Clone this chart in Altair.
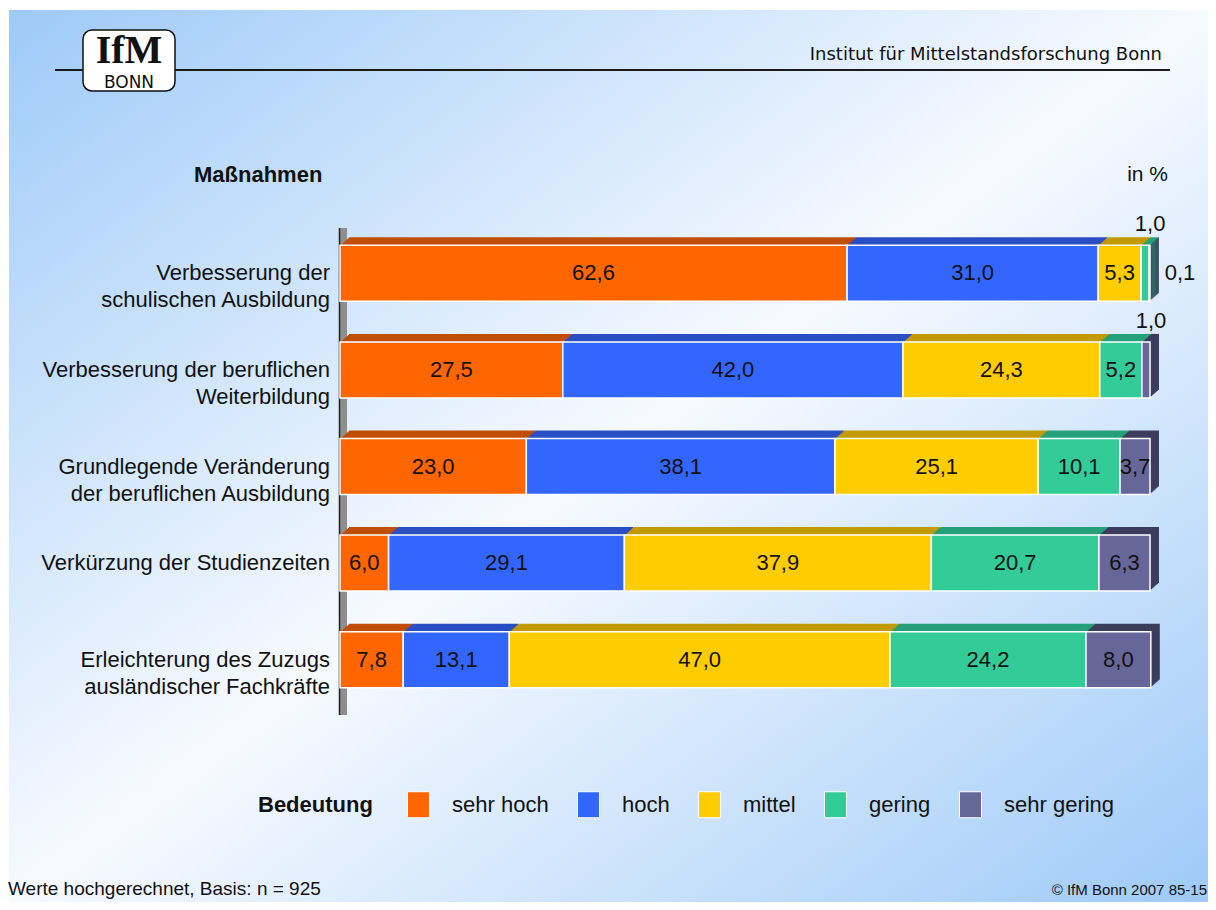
import altair as alt
import pandas as pd

# ---------------- data ----------------
categories = [
    "Verbesserung der\nschulischen Ausbildung",
    "Verbesserung der beruflichen\nWeiterbildung",
    "Grundlegende Veränderung\nder beruflichen Ausbildung",
    "Verkürzung der Studienzeiten",
    "Erleichterung des Zuzugs\nausländischer Fachkräfte",
]
levels = ["sehr hoch", "hoch", "mittel", "gering", "sehr gering"]
sehr_hoch = [62.6, 27.5, 23.0, 6.0, 7.8]
hoch = [31.0, 42.0, 38.1, 29.1, 13.1]
mittel = [5.3, 24.3, 25.1, 37.9, 47.0]
gering = [1.0, 5.2, 10.1, 20.7, 24.2]
sehr_gering = [0.1, 1.0, 3.7, 6.3, 8.0]
series = [sehr_hoch, hoch, mittel, gering, sehr_gering]

colors = ["#FF6600", "#3366FF", "#FFCC00", "#33CC99", "#666699"]
dark_colors = ["#C04E00", "#2A4EC4", "#C09A00", "#26A078", "#3C3C5E"]

rows = []
for i, cat in enumerate(categories):
    start = 0.0
    for j, lev in enumerate(levels):
        v = series[j][i]
        if v < 0.5:
            place = "right"
        elif v < 2:
            place = "above"
        else:
            place = "inside"
        rows.append(dict(cat=cat, level=lev, value=v, start=start, end=start + v,
                         mid=start + v / 2, dark=dark_colors[j],
                         label=f"{v:.1f}".replace(".", ","), place=place))
        start += v
df = pd.DataFrame(rows)
one = pd.DataFrame({"a": [0]})
cat_df = pd.DataFrame({"cat": categories})

W, H = 1200, 894
FONT = "Liberation Sans"

xscale = alt.Scale(domain=[0, 100], range=[332, 1142], nice=False, zero=False)
yscale = alt.Scale(domain=categories, range=[217, 700], paddingInner=0.42, paddingOuter=0.21)
X = lambda f: alt.X(f, type="quantitative", scale=xscale, axis=None)
Y = alt.Y("cat:N", scale=yscale, axis=None)

# ---------------- background ----------------
bg = alt.Chart(one).mark_rect(
    fill=alt.Gradient(
        gradient="linear",
        stops=[alt.GradientStop(color="#9ECAF8", offset=0),
               alt.GradientStop(color="#F7FAFF", offset=0.5),
               alt.GradientStop(color="#9ECAF8", offset=1)],
        x1=0, y1=0, x2=1, y2=1)
).encode(x=alt.value(1), x2=alt.value(W), y=alt.value(2), y2=alt.value(H))

# header
header_line = alt.Chart(one).mark_rule(stroke="#1a1a1a", strokeWidth=2).encode(
    x=alt.value(47), x2=alt.value(1162), y=alt.value(62))
logo_box = alt.Chart(one).mark_rect(fill="white", stroke="#111", strokeWidth=1.5, cornerRadius=9).encode(
    x=alt.value(75), x2=alt.value(167), y=alt.value(22), y2=alt.value(83))
logo_ifm = alt.Chart(one).mark_text(font="Liberation Serif", fontWeight="bold", fontSize=40,
                                    align="center", baseline="alphabetic", color="#111").encode(
    x=alt.value(121), y=alt.value(55), text=alt.value("IfM"))
logo_bonn = alt.Chart(one).mark_text(font="DejaVu Sans", fontSize=17, align="center",
                                     baseline="alphabetic", color="#111").encode(
    x=alt.value(121), y=alt.value(80), text=alt.value("BONN"))
inst = alt.Chart(one).mark_text(font="DejaVu Sans", fontSize=18, align="right",
                                baseline="alphabetic", color="#111").encode(
    x=alt.value(1154), y=alt.value(52), text=alt.value("Institut für Mittelstandsforschung Bonn"))
massn = alt.Chart(one).mark_text(font=FONT, fontSize=22, fontWeight="bold", align="left",
                                 baseline="middle", color="#111").encode(
    x=alt.value(186), y=alt.value(167), text=alt.value("Maßnahmen"))
inpct = alt.Chart(one).mark_text(font=FONT, fontSize=21, align="right",
                                 baseline="middle", color="#111").encode(
    x=alt.value(1160), y=alt.value(167), text=alt.value("in %"))

# axis wall
wall = alt.Chart(one).mark_rect(fill="#8E8E8E").encode(
    x=alt.value(332), x2=alt.value(339), y=alt.value(220), y2=alt.value(707))
wall_line = alt.Chart(one).mark_rule(stroke="#222", strokeWidth=1.5).encode(
    x=alt.value(331.5), y=alt.value(220), y2=alt.value(707))

# 3D extrusion (drawn back to front)
extr = []
for k in range(8, 0, -1):
    dx = k * 9 / 8
    extr.append(
        alt.Chart(df).mark_bar(xOffset=dx, x2Offset=dx, yOffset=-k, y2Offset=-k, strokeWidth=0).encode(
            x=X("start"), x2="end", y=Y, fill=alt.Fill("dark:N", scale=None))
    )

front = alt.Chart(df).mark_bar(stroke="white", strokeWidth=1.5).encode(
    x=X("start"), x2="end", y=Y,
    color=alt.Color("level:N", scale=alt.Scale(domain=levels, range=colors),
                    legend=alt.Legend(
                        orient="none", legendX=250, legendY=783, direction="horizontal",
                        title="Bedeutung", titleOrient="left", titleFontSize=22,
                        titleFontWeight="bold", titleFont=FONT, titleColor="#111",
                        titlePadding=32, titleBaseline="middle",
                        labelFontSize=22, labelFont=FONT, labelColor="#111", labelOffset=20,
                        symbolType="M-0.846,-1L0.846,-1L0.846,1L-0.846,1Z", symbolSize=676,
                        symbolStrokeColor="white", symbolStrokeWidth=1, symbolOpacity=1,
                        columnPadding=26)),
)

lab_inside = alt.Chart(df).transform_filter("datum.place == 'inside'").mark_text(
    font=FONT, fontSize=22, color="#111", baseline="middle", align="center").encode(
    x=X("mid"), y=Y, text="label:N")
lab_above = alt.Chart(df).transform_filter("datum.place == 'above'").mark_text(
    font=FONT, fontSize=22, color="#111", baseline="middle", align="center", dx=5, dy=-49).encode(
    x=X("mid"), y=Y, text="label:N")
lab_right = alt.Chart(df).transform_filter("datum.place == 'right'").mark_text(
    font=FONT, fontSize=22, color="#111", baseline="middle", align="center", dx=30).encode(
    x=X("end"), y=Y, text="label:N")

cat_labels = alt.Chart(cat_df).mark_text(
    font=FONT, fontSize=22, color="#111", align="right", baseline="middle",
    lineBreak="\n", lineHeight=27).encode(x=alt.value(322), y=Y, text="cat:N")

foot_l = alt.Chart(one).mark_text(font=FONT, fontSize=19, align="left", baseline="alphabetic",
                                  color="#111").encode(
    x=alt.value(0), y=alt.value(887), text=alt.value("Werte hochgerechnet, Basis: n = 925"))
foot_r = alt.Chart(one).mark_text(font=FONT, fontSize=15, align="right", baseline="alphabetic",
                                  color="#111").encode(
    x=alt.value(1199), y=alt.value(887), text=alt.value("© IfM Bonn 2007  85-15"))

chart = alt.layer(
    bg, header_line, logo_box, logo_ifm, logo_bonn, inst, massn, inpct,
    wall, wall_line, *extr, front, lab_inside, lab_above, lab_right, cat_labels,
    foot_l, foot_r
).properties(
    width=W, height=H, padding=0, autosize=alt.AutoSizeParams(type="none"), background="white"
).configure_view(stroke=None)

chart.save("out.html", embed_options={"renderer": "svg", "actions": False})
